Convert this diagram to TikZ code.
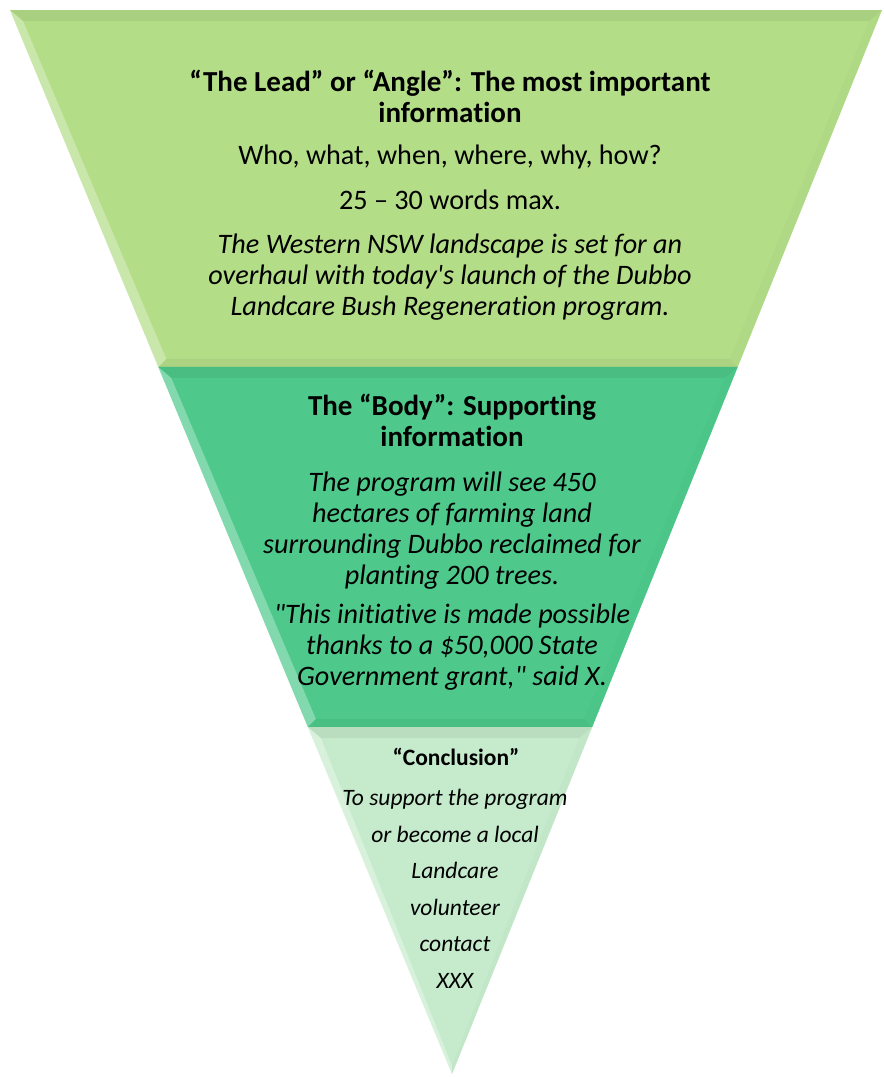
\documentclass[tikz,border=0pt]{standalone}
\usepackage{fontspec}
\setmainfont{Carlito}[Ligatures={NoCommon}]
\usetikzlibrary{calc}

\definecolor{leadgreen}{RGB}{180,221,136}
\definecolor{bodygreen}{RGB}{78,201,139}
\definecolor{endgreen}{RGB}{198,235,204}

% one tier of the funnel with a soft bevel
\newcommand{\drawtier}[6]{%
  \fill[#5] (#1) -- (#2) -- (#3) -- (#4) -- cycle;
  \coordinate (i1) at ($(#1)+(13,11)$);
  \coordinate (i2) at ($(#2)+(-13,11)$);
  \coordinate (i3) at ($(#3)+(-#6,-8)$);
  \coordinate (i4) at ($(#4)+(#6,-8)$);
  \fill[#5!85!black, opacity=.4] (#1) -- (#2) -- (i2) -- (i1) -- cycle;
  \fill[white, opacity=.3] (#1) -- (i1) -- (i4) -- (#4) -- cycle;
  \fill[#5!94!black, opacity=.3] (#2) -- (#3) -- (i3) -- (i2) -- cycle;
  \fill[#5!85!black, opacity=.3] (#4) -- (i4) -- (i3) -- (#3) -- cycle;
}

\begin{document}
\begin{tikzpicture}[
    x = 1pt, y = -1pt, % pixel-like units, y down
    txt/.style = {align=center, inner sep=0pt, font=\fontsize{28.2}{31}\selectfont},
    head/.style = {txt, font=\fontsize{29}{31}\selectfont\bfseries},
    ital/.style = {txt, font=\fontsize{28.2}{31}\selectfont\itshape},
    small/.style = {align=center, inner sep=0pt, font=\fontsize{23.5}{36.5}\selectfont\itshape}
    ]
    \useasboundingbox (0,0) rectangle (884,1077);

    \coordinate (tl) at (10,10);
    \coordinate (tr) at (882,10);
    \coordinate (tip) at (452,1074);
    \coordinate (ml) at ($(tl)!0.3355!(tip)$);
    \coordinate (mr) at ($(tr)!0.3355!(tip)$);
    \coordinate (bl) at ($(tl)!0.6739!(tip)$);
    \coordinate (br) at ($(tr)!0.6739!(tip)$);

    \drawtier{tl}{tr}{mr}{ml}{leadgreen}{8}
    \drawtier{ml}{mr}{br}{bl}{bodygreen}{8}
    \drawtier{bl}{br}{tip}{tip}{endgreen}{0}

    % the lead
    \node[head] (leadhead) at (450,96) {“The Lead” or “Angle”: The most important\\information};
    \node[txt] (leadq) at (450,157) {Who, what, when, where, why, how?};
    \node[txt] (leadmax) at (450,200) {25 – 30 words max.};
    \node[ital] (leadex) at (450,277) {The Western NSW landscape is set for an\\overhaul with today\textquotesingle s launch of the Dubbo\\Landcare Bush Regeneration program.};

    % the body
    \node[head] (bodyhead) at (452,420) {The “Body”: Supporting\\information};
    \node[ital] (bodyex) at (452,531) {The program will see 450\\hectares of farming land\\surrounding Dubbo reclaimed for\\planting 200 trees.};
    \node[ital] (bodyquote) at (452,647) {\textquotedbl This initiative is made possible\\thanks to a \$50,000 State\\Government grant,\textquotedbl{} said X.};

    % the conclusion
    \node[font=\fontsize{23.5}{26}\selectfont\bfseries, inner sep=0pt] (endhead) at (456,757) {“Conclusion”};
    \node[small] (endtext) at (455,889) {To support the program\\or become a local\\Landcare\\volunteer\\contact\\XXX};
\end{tikzpicture}
\end{document}
